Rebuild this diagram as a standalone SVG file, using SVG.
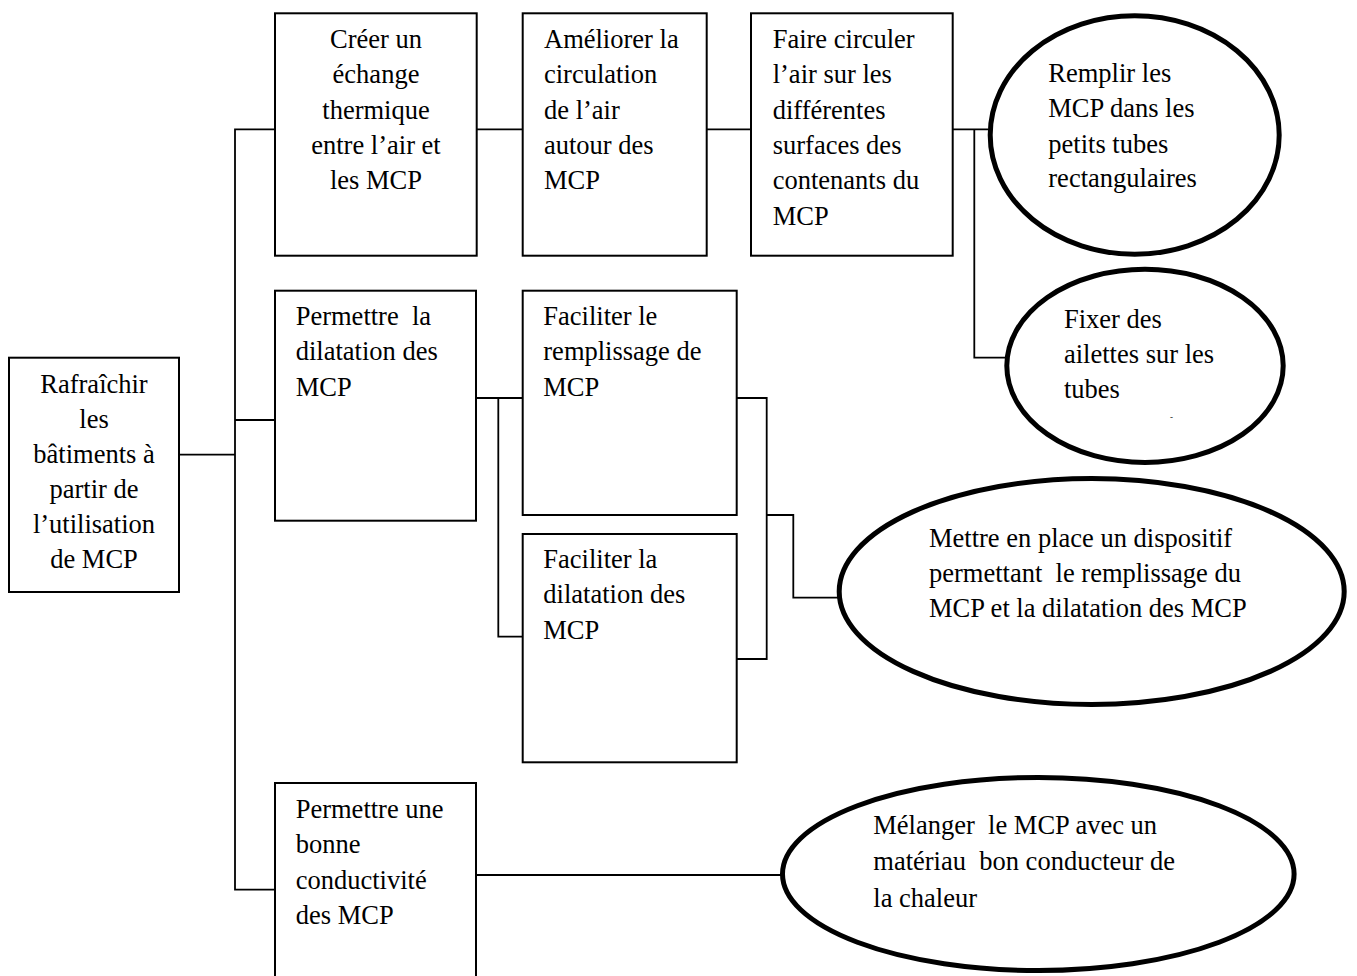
<svg xmlns="http://www.w3.org/2000/svg" width="1357" height="976" viewBox="0 0 1357 976">
<style>
.box{fill:#fff;stroke:#000;stroke-width:2}
.ell{fill:#fff;stroke:#000;stroke-width:5}
.ln{fill:none;stroke:#000;stroke-width:1.8}
text{font-family:"Liberation Serif","Times New Roman",serif;font-size:26.5px;fill:#000;white-space:pre}
.c{text-anchor:middle}
</style>
<rect width="1357" height="976" fill="#fff"/>
<g id="connectors">
<polyline class="ln" points="275,129.3 235,129.3 235,889.7 275,889.7"/>
<line class="ln" x1="235" y1="420" x2="275" y2="420"/>
<line class="ln" x1="179" y1="454.7" x2="235" y2="454.7"/>
<line class="ln" x1="477" y1="129.3" x2="523" y2="129.3"/>
<line class="ln" x1="707" y1="129.3" x2="751" y2="129.3"/>
<line class="ln" x1="953" y1="129.3" x2="988" y2="129.3"/>
<polyline class="ln" points="974.3,129.3 974.3,357.7 1006,357.7"/>
<line class="ln" x1="476" y1="398" x2="523" y2="398"/>
<polyline class="ln" points="498.3,398 498.3,636.7 523,636.7"/>
<polyline class="ln" points="736.7,398 766.7,398 766.7,659 736.7,659"/>
<polyline class="ln" points="766.7,515 793.3,515 793.3,597.7 838,597.7"/>
<line class="ln" x1="476" y1="875" x2="781" y2="875"/>
</g>
<g id="root">
<rect class="box" x="9" y="357.7" width="170" height="234.3"/>
<text class="c" x="94" y="393.3">Rafraîchir</text>
<text class="c" x="94" y="428">les</text>
<text class="c" x="94" y="463">bâtiments à</text>
<text class="c" x="94" y="498.3">partir de</text>
<text class="c" x="94" y="533.3">l’utilisation</text>
<text class="c" x="94" y="568.3">de MCP</text>
</g>
<g id="creer">
<rect class="box" x="275" y="13.3" width="201.7" height="242.4"/>
<text class="c" x="376" y="48">Créer un</text>
<text class="c" x="376" y="83.3">échange</text>
<text class="c" x="376" y="118.5">thermique</text>
<text class="c" x="376" y="153.7">entre l’air et</text>
<text class="c" x="376" y="189">les MCP</text>
</g>
<g id="ameliorer">
<rect class="box" x="522.7" y="13.3" width="184" height="242.4"/>
<text x="544" y="48">Améliorer la</text>
<text x="544" y="83.3">circulation</text>
<text x="544" y="118.5">de l’air</text>
<text x="544" y="153.7">autour des</text>
<text x="544" y="189">MCP</text>
</g>
<g id="faire">
<rect class="box" x="751" y="13.3" width="201.7" height="242.4"/>
<text x="772.7" y="48">Faire circuler</text>
<text x="772.7" y="83.3">l’air sur les</text>
<text x="772.7" y="118.5">différentes</text>
<text x="772.7" y="153.7">surfaces des</text>
<text x="772.7" y="189">contenants du</text>
<text x="772.7" y="224.5">MCP</text>
</g>
<g id="remplir">
<ellipse class="ell" cx="1134.7" cy="135" rx="144.5" ry="119.2"/>
<text x="1048.3" y="81.7">Remplir les</text>
<text x="1048.3" y="117.3">MCP dans les</text>
<text x="1048.3" y="153">petits tubes</text>
<text x="1048.3" y="187">rectangulaires</text>
</g>
<g id="fixer">
<ellipse class="ell" cx="1145" cy="365.8" rx="138.2" ry="96.6"/>
<text x="1064" y="328.3">Fixer des</text>
<text x="1064" y="363.3">ailettes sur les</text>
<text x="1064" y="398.3">tubes</text>
<text x="1170" y="420" style="font-size:9px">-</text>
</g>
<g id="permettre-dilatation">
<rect class="box" x="275" y="290.7" width="201" height="230"/>
<text x="295.7" y="325">Permettre  la</text>
<text x="295.7" y="360.3">dilatation des</text>
<text x="295.7" y="396">MCP</text>
</g>
<g id="faciliter-remplissage">
<rect class="box" x="522.7" y="290.7" width="214" height="224.3"/>
<text x="543.3" y="325">Faciliter le</text>
<text x="543.3" y="360.3">remplissage de</text>
<text x="543.3" y="396">MCP</text>
</g>
<g id="faciliter-dilatation">
<rect class="box" x="522.7" y="534" width="214" height="228.3"/>
<text x="543.3" y="568">Faciliter la</text>
<text x="543.3" y="603.3">dilatation des</text>
<text x="543.3" y="639">MCP</text>
</g>
<g id="mettre">
<ellipse class="ell" cx="1091.7" cy="591.5" rx="252.5" ry="113"/>
<text x="929" y="546.7">Mettre en place un dispositif</text>
<text x="929" y="581.7">permettant  le remplissage du</text>
<text x="929" y="616.7">MCP et la dilatation des MCP</text>
</g>
<g id="conductivite">
<rect class="box" x="275" y="783" width="201" height="210"/>
<text x="295.7" y="818.3">Permettre une</text>
<text x="295.7" y="853.3">bonne</text>
<text x="295.7" y="888.5">conductivité</text>
<text x="295.7" y="923.5">des MCP</text>
</g>
<g id="melanger">
<ellipse class="ell" cx="1038.3" cy="874" rx="255.8" ry="96.5"/>
<text x="873.3" y="834.3">Mélanger  le MCP avec un</text>
<text x="873.3" y="870">matériau  bon conducteur de</text>
<text x="873.3" y="906.5">la chaleur</text>
</g>
</svg>
